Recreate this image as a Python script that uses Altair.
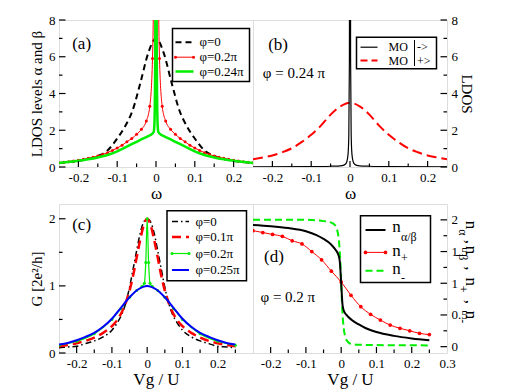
import altair as alt
import pandas as pd

FONT = "Liberation Serif"
RED = "#ff0000"
GREEN = "#00ee00"
BLUE = "#0000ff"

# ---------------- panel (a) ----------------
a_black_w = [-0.25, -0.225, -0.2, -0.175, -0.15, -0.125, -0.1, -0.08, -0.06, -0.04, -0.02, 0.0,
             0.02, 0.04, 0.06, 0.08, 0.1, 0.125, 0.15, 0.175, 0.2, 0.225, 0.25]
a_black_v = [0.22, 0.27, 0.33, 0.43, 0.6, 0.9, 1.55, 2.2, 3.1, 4.6, 6.2, 7.0,
             6.2, 4.6, 3.1, 2.2, 1.55, 0.9, 0.6, 0.43, 0.33, 0.27, 0.22]
a_red_w = [-0.25, -0.2375, -0.225, -0.2125, -0.2, -0.1875, -0.175, -0.1625, -0.15, -0.1375, -0.125,
           -0.1125, -0.1, -0.0875, -0.075, -0.0625, -0.05, -0.0375, -0.025, -0.016, -0.009, -0.005, 0.0,
           0.005, 0.009, 0.016, 0.025, 0.0375, 0.05, 0.0625, 0.075, 0.0875, 0.1, 0.1125, 0.125,
           0.1375, 0.15, 0.1625, 0.175, 0.1875, 0.2, 0.2125, 0.225, 0.2375, 0.25]
a_red_v = [0.23, 0.26, 0.29, 0.33, 0.37, 0.42, 0.47, 0.53, 0.6, 0.68, 0.78,
           0.9, 1.03, 1.18, 1.37, 1.55, 1.78, 2.05, 2.5, 3.3, 5.9, 12.0, 30.0,
           12.0, 5.9, 3.3, 2.5, 2.05, 1.78, 1.55, 1.37, 1.18, 1.03, 0.9, 0.78,
           0.68, 0.6, 0.53, 0.47, 0.42, 0.37, 0.33, 0.29, 0.26, 0.23]
a_green_w = [-0.25, -0.2, -0.175, -0.15, -0.125, -0.1, -0.08, -0.06, -0.04, -0.02, -0.01, -0.006, -0.004,
             -0.002, -0.001, 0.0, 0.001, 0.002, 0.004, 0.006, 0.01, 0.02, 0.04, 0.06, 0.08, 0.1, 0.125,
             0.15, 0.175, 0.2, 0.25]
a_green_v = [0.22, 0.34, 0.42, 0.52, 0.65, 0.85, 1.05, 1.27, 1.48, 1.68, 1.8, 1.9, 2.4,
             6.0, 14.0, 40.0, 14.0, 6.0, 2.4, 1.9, 1.8, 1.68, 1.48, 1.27, 1.05, 0.85, 0.65,
             0.52, 0.42, 0.34, 0.22]

# ---------------- panel (b) ----------------
b_red_w = [-0.25, -0.225, -0.2, -0.175, -0.15, -0.125, -0.1, -0.075, -0.05, -0.025, 0.0,
           0.025, 0.05, 0.075, 0.1, 0.125, 0.15, 0.175, 0.2, 0.225, 0.25]
b_red_v = [0.42, 0.52, 0.63, 0.8, 1.02, 1.35, 1.75, 2.25, 2.85, 3.3, 3.5,
           3.3, 2.85, 2.25, 1.75, 1.35, 1.02, 0.8, 0.63, 0.52, 0.42]
b_black_w = [-0.25, -0.1, -0.05, -0.02, -0.012, -0.008, -0.005, -0.003, -0.0015, 0.0,
             0.0015, 0.003, 0.005, 0.008, 0.012, 0.02, 0.05, 0.1, 0.25]
b_black_v = [0.01, 0.02, 0.04, 0.08, 0.15, 0.3, 0.7, 1.8, 6.0, 60.0,
             6.0, 1.8, 0.7, 0.3, 0.15, 0.08, 0.04, 0.02, 0.01]

# ---------------- panel (c) ----------------
c_w = [-0.25, -0.225, -0.2, -0.175, -0.15, -0.125, -0.1, -0.085, -0.07, -0.06, -0.05, -0.04, -0.03,
       -0.02, -0.01, 0.0, 0.01, 0.02, 0.03, 0.04, 0.05, 0.06, 0.07, 0.085, 0.1, 0.125, 0.15, 0.175,
       0.2, 0.225, 0.25]
c_black = [0.08, 0.09, 0.1, 0.14, 0.18, 0.24, 0.34, 0.45, 0.6, 0.76, 0.98, 1.25, 1.52,
           1.78, 1.95, 2.0, 1.95, 1.78, 1.52, 1.25, 0.98, 0.76, 0.6, 0.45, 0.34, 0.24, 0.18, 0.14,
           0.1, 0.09, 0.08]
c_red = [0.1, 0.12, 0.145, 0.18, 0.23, 0.3, 0.4, 0.49, 0.63, 0.76, 0.93, 1.15, 1.42,
         1.68, 1.9, 2.0, 1.9, 1.68, 1.42, 1.15, 0.93, 0.76, 0.63, 0.49, 0.4, 0.3, 0.23, 0.18,
         0.145, 0.12, 0.1]
c_green_w = [-0.25, -0.2, -0.15, -0.1, -0.075, -0.05, -0.03, -0.015, -0.008, -0.004, 0.0,
             0.004, 0.008, 0.015, 0.03, 0.05, 0.075, 0.1, 0.15, 0.2, 0.25]
c_green = [0.115, 0.175, 0.285, 0.5, 0.66, 0.83, 0.93, 0.99, 1.04, 1.35, 2.0,
           1.35, 1.04, 0.99, 0.93, 0.83, 0.66, 0.5, 0.285, 0.175, 0.115]
c_blue_w = [-0.25, -0.225, -0.2, -0.175, -0.15, -0.125, -0.1, -0.075, -0.05, -0.025, 0.0,
            0.025, 0.05, 0.075, 0.1, 0.125, 0.15, 0.175, 0.2, 0.225, 0.25]
c_blue = [0.125, 0.15, 0.19, 0.24, 0.3, 0.39, 0.51, 0.67, 0.83, 0.95, 1.0,
          0.95, 0.83, 0.67, 0.51, 0.39, 0.3, 0.24, 0.19, 0.15, 0.125]

# ---------------- panel (d) ----------------
d_black_w = [-0.25, -0.2, -0.15, -0.1, -0.07, -0.05, -0.03, -0.015, -0.008, -0.004, 0.0,
             0.004, 0.008, 0.015, 0.03, 0.05, 0.07, 0.1, 0.15, 0.2, 0.25]
d_black = [1.92, 1.9, 1.87, 1.82, 1.76, 1.7, 1.62, 1.52, 1.45, 1.35, 1.0,
           0.65, 0.56, 0.5, 0.42, 0.35, 0.29, 0.23, 0.17, 0.13, 0.1]
d_red_w = [-0.25, -0.2222, -0.1944, -0.1667, -0.1389, -0.1111, -0.0833, -0.0556, -0.0278, 0.0,
           0.0278, 0.0556, 0.0833, 0.1111, 0.1389, 0.1667, 0.1944, 0.2222, 0.25]
d_red = [1.83, 1.8, 1.77, 1.74, 1.67, 1.62, 1.5, 1.37, 1.19, 1.02,
         0.81, 0.63, 0.51, 0.42, 0.34, 0.29, 0.25, 0.21, 0.19]
d_green_w = [-0.25, -0.1, -0.05, -0.03, -0.02, -0.012, -0.007, -0.003, 0.0,
             0.003, 0.007, 0.012, 0.02, 0.03, 0.05, 0.1, 0.25]
d_green = [2.0, 2.0, 1.98, 1.96, 1.93, 1.85, 1.7, 1.4, 1.0,
           0.6, 0.3, 0.15, 0.07, 0.04, 0.03, 0.025, 0.02]

# ---------------- tick values ----------------
ab_x_major = [-0.2, -0.1, 0.0, 0.1, 0.2]
ab_x_minor = [-0.15, -0.05, 0.05, 0.15]
ab_y_major = [0, 2, 4, 6, 8]
ab_y_minor = [1, 3, 5, 7]
cd_x_major = [-0.2, -0.1, 0.0, 0.1, 0.2]
cd_x_minor = [-0.15, -0.05, 0.05, 0.15, 0.25]
d_x_labels = [-0.2, -0.1, 0.0, 0.1, 0.2, 0.3]
c_y_major = [0, 1, 2]
c_y_minor = [0.5, 1.5]
d_y_major = [0, 0.5, 1, 1.5, 2]
d_y_minor = [0.25, 0.75, 1.25, 1.75]

W = 194
HT = 147
HB = 149
ONE = pd.DataFrame({"k": [0]})
LBL = "datum.value < 0 ? '-' + format(-datum.value, '~g') : format(datum.value, '~g')"


def xaxis(values, title):
    return alt.Axis(values=values, labelExpr=LBL, title=title, ticks=False, tickSize=0, domain=False,
                    grid=False, labelFont=FONT, labelFontSize=13, labelColor="black", labelPadding=4,
                    titleFont=FONT, titleFontSize=17, titleFontWeight="normal", titleColor="black",
                    titlePadding=1, labelFlush=False)


def yaxis(values, title, orient="left"):
    return alt.Axis(values=values, labelExpr=LBL, title=title, orient=orient, ticks=False, tickSize=0,
                    domain=False, grid=False, labelFont=FONT, labelFontSize=13, labelColor="black",
                    labelPadding=4, titleFont=FONT, titleFontSize=15, titleFontWeight="normal",
                    titleColor="black", titlePadding=(4 if orient == "left" else 1), labelFlush=False)


def enc(xdom, ydom, xa, ya):
    X = alt.X("x:Q", scale=alt.Scale(domain=xdom, nice=False, zero=False), axis=xa)
    Y = alt.Y("y:Q", scale=alt.Scale(domain=ydom, nice=False, zero=False), axis=ya)
    return X, Y


def line(xs, ys, X, Y, color, width, dash=None):
    kw = dict(color=color, strokeWidth=width, clip=True, interpolate="monotone")
    if dash:
        kw["strokeDash"] = dash
    return alt.Chart(pd.DataFrame({"x": xs, "y": ys})).mark_line(**kw).encode(x=X, y=Y)


def dots(xs, ys, X, Y, color, size):
    return alt.Chart(pd.DataFrame({"x": xs, "y": ys})).mark_circle(
        color=color, size=size, opacity=1, clip=True).encode(x=X, y=Y)


def xticks(vals, X, h, ln):
    return alt.Chart(pd.DataFrame({"x": vals})).mark_rule(color="black", strokeWidth=1.2).encode(
        x=X, y=alt.value(h), y2=alt.value(h - ln))


def yticks(vals, Y, x0, ln):
    return alt.Chart(pd.DataFrame({"y": vals})).mark_rule(color="black", strokeWidth=1.2).encode(
        y=Y, x=alt.value(x0), x2=alt.value(x0 + ln))


def seg(x1, x2, y, color, width, dash=None):
    kw = dict(color=color, strokeWidth=width)
    if dash:
        kw["strokeDash"] = dash
    return alt.Chart(ONE).mark_rule(**kw).encode(x=alt.value(x1), x2=alt.value(x2), y=alt.value(y))


def vseg(x, y1, y2, width=1):
    return alt.Chart(ONE).mark_rule(color="black", strokeWidth=width).encode(
        x=alt.value(x), y=alt.value(y1), y2=alt.value(y2))


def dot(x, y, color, size):
    return alt.Chart(ONE).mark_circle(color=color, size=size, opacity=1).encode(
        x=alt.value(x), y=alt.value(y))


def box(x1, x2, y1, y2):
    return alt.Chart(ONE).mark_rect(fill="white", stroke="black", strokeWidth=1.5).encode(
        x=alt.value(x1), x2=alt.value(x2), y=alt.value(y1), y2=alt.value(y2))


def txt(s, x, y, size, baseline="middle", angle=0, dx=0, dy=0, align="left"):
    return alt.Chart(ONE).mark_text(text=s, font=FONT, fontSize=size, color="black", align=align,
                                    baseline=baseline, angle=angle, dx=dx, dy=dy).encode(
        x=alt.value(x), y=alt.value(y))


# ---- (a)
Xa, Ya = enc([-0.25, 0.25], [0, 8], xaxis(ab_x_major, "ω"), yaxis(ab_y_major, "LDOS levels α and β"))
pa = alt.layer(
    line(a_black_w, a_black_v, Xa, Ya, "black", 2, [6, 4]),
    line(a_red_w, a_red_v, Xa, Ya, RED, 1),
    dots(a_red_w, a_red_v, Xa, Ya, RED, 9),
    line(a_green_w, a_green_v, Xa, Ya, GREEN, 2.5),
    xticks(ab_x_major, Xa, HT, 6), xticks(ab_x_minor, Xa, HT, 3.5),
    yticks(ab_y_major, Ya, 0, 6.5), yticks(ab_y_minor, Ya, 0, 3.5),
    box(113.5, 190.5, 8.5, 61.5),
    seg(116.5, 134.5, 22.2, "black", 2, [6, 4]),
    seg(116.5, 134.5, 37.2, RED, 1), dot(116.5, 37.2, RED, 9), dot(134.5, 37.2, RED, 9),
    seg(116.5, 134.5, 51.5, GREEN, 2.5),
    txt("φ=0", 140.5, 22.2, 13), txt("φ=0.2π", 140.5, 37.2, 13), txt("φ=0.24π", 140.5, 51.5, 13),
    txt("(a)", 13.2, 23.8, 17),
).properties(width=W, height=HT)

# ---- (b)
Xb, Yb = enc([-0.25, 0.25], [0, 8], xaxis(ab_x_major, "ω"), yaxis(ab_y_major, "LDOS", "right"))
pb = alt.layer(
    line(b_red_w, b_red_v, Xb, Yb, RED, 2, [10, 5]),
    line(b_black_w, b_black_v, Xb, Yb, "black", 1.2),
    xticks(ab_x_major, Xb, HT, 6), xticks(ab_x_minor, Xb, HT, 3.5),
    yticks(ab_y_major, Yb, W - 6.5, 6.5), yticks(ab_y_minor, Yb, W - 3.5, 3.5),
    box(103.5, 183.5, 17.2, 48.8),
    seg(107.5, 124.5, 27.2, "black", 1.2),
    seg(107.5, 124.5, 40.5, RED, 2, [7, 4]),
    txt("MO", 135.5, 27.2, 12), txt("MO", 135.5, 40.5, 12),
    vseg(161.5, 20, 46),
    txt("->", 164, 27.2, 12), txt("+>", 164, 40.5, 12),
    txt("(b)", 15.2, 24.7, 17),
    txt("φ = 0.24 π", 9.8, 53, 15),
).properties(width=W, height=HT)

# ---- (c)
Xc, Yc = enc([-0.25, 0.3], [0, 2.22], xaxis(cd_x_major, "Vg / U"), yaxis(c_y_major, "G  [2e²/h]"))
pc = alt.layer(
    line(c_w, c_black, Xc, Yc, "black", 1.5, [6, 3, 1.5, 3]),
    line(c_w, c_red, Xc, Yc, RED, 2.5, [9, 5]),
    line(c_green_w, c_green, Xc, Yc, GREEN, 1.2),
    dots(c_green_w, c_green, Xc, Yc, GREEN, 9),
    line(c_blue_w, c_blue, Xc, Yc, BLUE, 2),
    xticks(cd_x_major, Xc, HB, 6), xticks(cd_x_minor, Xc, HB, 3.5),
    yticks(c_y_major, Yc, 0, 6.5), yticks(c_y_minor, Yc, 0, 3.5),
    box(108, 187.5, 6.7, 76.7),
    seg(113, 130, 17.5, "black", 1.5, [6, 3, 1.5, 3]),
    seg(113, 130, 33, RED, 2.5, [9, 5]),
    seg(113, 130, 49.5, GREEN, 1.2), dot(113, 49.5, GREEN, 9), dot(130, 49.5, GREEN, 9),
    seg(113, 130, 66, BLUE, 2),
    txt("φ=0", 136.5, 17.5, 13), txt("φ=0.1π", 136.5, 33, 13),
    txt("φ=0.2π", 136.5, 49.5, 13), txt("φ=0.25π", 136.5, 66, 13),
    txt("(c)", 13.2, 21, 17),
).properties(width=W, height=HB)

# ---- (d)
Xd, Yd = enc([-0.25, 0.3], [-0.1, 2.25], xaxis(d_x_labels, "Vg / U"), yaxis(d_y_major, None, "right"))
pd_ = alt.layer(
    line(d_green_w, d_green, Xd, Yd, GREEN, 2, [7, 4]),
    line(d_red_w, d_red, Xd, Yd, RED, 1),
    dots(d_red_w, d_red, Xd, Yd, RED, 14),
    line(d_black_w, d_black, Xd, Yd, "black", 2),
    xticks(cd_x_major, Xd, HB, 6), xticks(cd_x_minor, Xd, HB, 3.5),
    yticks(d_y_major, Yd, W - 6.5, 6.5), yticks(d_y_minor, Yd, W - 3.5, 3.5),
    box(107.5, 177.5, 11.7, 78.4),
    seg(112.5, 132.5, 26, "black", 2),
    seg(112.5, 132.5, 48.4, RED, 1), dot(112.5, 48.4, RED, 14), dot(132.5, 48.4, RED, 14),
    seg(112.5, 132.5, 66.7, GREEN, 2, [7, 4]),
    txt("n", 139.2, 28.4, 17, "alphabetic"), txt("α/β", 148, 36.7, 12, "alphabetic"),
    txt("n", 139.2, 51.7, 17, "alphabetic"), txt("+", 148, 58.4, 12, "alphabetic"),
    txt("n", 139.2, 70, 17, "alphabetic"), txt("-", 148, 77.7, 12, "alphabetic"),
    txt("(d)", 11, 52.7, 17),
    txt("φ = 0.2 π", 7.5, 93.2, 15),
    # right-hand axis title (rotated, with subscripts)
    txt("n", 213, 16.7, 17, "alphabetic", 90, 0, 0),
    txt("α", 213, 16.7, 12, "alphabetic", 90, 8.5, 7),
    txt(",", 213, 16.7, 17, "alphabetic", 90, 19, 0),
    txt("n", 213, 16.7, 17, "alphabetic", 90, 25, 0),
    txt("β", 213, 16.7, 12, "alphabetic", 90, 33.5, 7),
    txt(",", 213, 16.7, 17, "alphabetic", 90, 45.5, 0),
    txt("n", 213, 16.7, 17, "alphabetic", 90, 56.7, 0),
    txt("+", 213, 16.7, 12, "alphabetic", 90, 65, 7),
    txt(",", 213, 16.7, 17, "alphabetic", 90, 79, 0),
    txt("n", 213, 16.7, 17, "alphabetic", 90, 90, 0),
    txt("-", 213, 16.7, 12, "alphabetic", 90, 98.5, 7),
).properties(width=W, height=HB)

chart = alt.concat(
    pa, pb, pc, pd_, columns=2, spacing={"row": 37, "column": 0}, bounds="flush", align="each"
).properties(
    padding={"left": 20, "top": 5, "right": 5, "bottom": 5}
).configure_view(stroke="black", strokeWidth=1.6).configure(font=FONT, background="white")

chart.save("out.html", embed_options={"renderer": "svg", "actions": False})
